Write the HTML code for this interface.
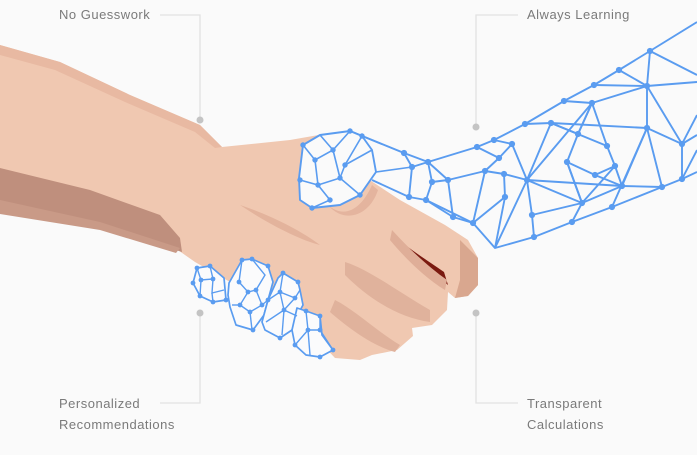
<!DOCTYPE html>
<html><head><meta charset="utf-8"><style>
html,body{margin:0;padding:0;background:#fafafa;}
svg{display:block;}
text{font-family:"Liberation Sans",sans-serif;font-size:13px;fill:#7a7a7a;letter-spacing:0.5px;}
</style></head><body>
<svg width="697" height="455" viewBox="0 0 697 455" xmlns="http://www.w3.org/2000/svg">
<rect width="697" height="455" fill="#fafafa"/>
<g stroke="#e2e2e2" stroke-width="1.3" fill="none">
<polyline points="160,15 200,15 200,120"/>
<polyline points="518,15 476,15 476,127"/>
<polyline points="200,313 200,403 160,403"/>
<polyline points="476,313 476,403 518,403"/>
</g>
<g fill="#c4c4c4">
<circle cx="200" cy="120" r="3.5"/><circle cx="476" cy="127" r="3.5"/>
<circle cx="200" cy="313" r="3.5"/><circle cx="476" cy="313" r="3.5"/>
</g>
<text x="59" y="19">No Guesswork</text>
<text x="527" y="19">Always Learning</text>
<text x="59" y="408">Personalized</text>
<text x="59" y="429">Recommendations</text>
<text x="527" y="408">Transparent</text>
<text x="527" y="429">Calculations</text>

<g stroke="#5a9cf0" stroke-width="1.9" fill="none" stroke-linejoin="round">
<polyline points="300,160 350,131 404,153 428,162 477,147 494,140 525,124 564,101 594,85 619,70 650,51 697,22"/>
<polyline points="372,180 409,197 426,200 453,217 473,223 495,248 534,237 572,222 612,207 662,187 682,179 697,172"/>
<polyline points="404,153 412,167 409,197"/><polyline points="428,162 432,182 426,200"/>
<polyline points="412,167 428,162 448,180 453,217"/><polyline points="432,182 448,180 485,171 504,174 527,180"/>
<polyline points="426,200 473,223 485,171 499,158 477,147"/><polyline points="499,158 512,144 494,140"/>
<polyline points="512,144 527,180 551,123 525,124"/><polyline points="504,174 505,197 495,248"/>
<polyline points="505,197 473,223"/><polyline points="527,180 532,215 534,237"/><polyline points="527,180 495,248"/>
<polyline points="532,215 582,203 572,222"/><polyline points="527,180 582,203 567,162 578,134 551,123"/>
<polyline points="527,180 592,103 564,101"/><polyline points="551,123 607,146 615,166 622,186"/>
<polyline points="592,103 578,134"/><polyline points="592,103 607,146"/><polyline points="592,103 647,86 650,51"/>
<polyline points="594,85 647,86"/><polyline points="619,70 647,86"/><polyline points="647,86 647,128 662,187"/>
<polyline points="647,86 682,144 682,179"/><polyline points="650,51 697,75"/><polyline points="647,86 697,82"/>
<polyline points="551,123 647,128 682,144 697,135"/><polyline points="647,128 622,186 582,203"/>
<polyline points="647,128 612,207"/><polyline points="567,162 595,175 615,166"/><polyline points="595,175 622,186"/>
<polyline points="527,180 622,186 662,187"/><polyline points="582,203 615,166"/><polyline points="682,144 697,115"/>
<polyline points="682,179 697,150"/><polyline points="578,134 592,103"/><polyline points="567,162 582,203"/>
</g>
<g fill="#5a9cf0">
<circle cx="404" cy="153" r="3.1"/><circle cx="428" cy="162" r="3.1"/><circle cx="477" cy="147" r="3.1"/><circle cx="494" cy="140" r="3.1"/><circle cx="525" cy="124" r="3.1"/><circle cx="564" cy="101" r="3.1"/><circle cx="594" cy="85" r="3.1"/><circle cx="619" cy="70" r="3.1"/><circle cx="650" cy="51" r="3.1"/>
<circle cx="409" cy="197" r="3.1"/><circle cx="426" cy="200" r="3.1"/><circle cx="453" cy="217" r="3.1"/><circle cx="473" cy="223" r="3.1"/><circle cx="534" cy="237" r="3.1"/><circle cx="572" cy="222" r="3.1"/><circle cx="612" cy="207" r="3.1"/><circle cx="662" cy="187" r="3.1"/><circle cx="682" cy="179" r="3.1"/>
<circle cx="412" cy="167" r="3.1"/><circle cx="432" cy="182" r="3.1"/><circle cx="448" cy="180" r="3.1"/><circle cx="485" cy="171" r="3.1"/><circle cx="504" cy="174" r="3.1"/><circle cx="499" cy="158" r="3.1"/><circle cx="512" cy="144" r="3.1"/><circle cx="527" cy="180" r="3.1"/><circle cx="551" cy="123" r="3.1"/><circle cx="505" cy="197" r="3.1"/><circle cx="532" cy="215" r="3.1"/><circle cx="582" cy="203" r="3.1"/><circle cx="567" cy="162" r="3.1"/><circle cx="578" cy="134" r="3.1"/><circle cx="592" cy="103" r="3.1"/><circle cx="607" cy="146" r="3.1"/><circle cx="615" cy="166" r="3.1"/><circle cx="622" cy="186" r="3.1"/><circle cx="595" cy="175" r="3.1"/><circle cx="647" cy="86" r="3.1"/><circle cx="647" cy="128" r="3.1"/><circle cx="682" cy="144" r="3.1"/>
</g>

<path d="M0,45 L60,62 L130,95 L200,125 L222,147 L290,140 L330,133 L350,140 L362,175 L400,200 L445,225 L468,240 L478,258 L478,285 L468,296 L455,298 L448,292 L447,310 L432,325 L412,328 L413,336 L397,350 L372,355 L360,360 L335,358 L318,340 L300,322 L262,300 L230,282 L195,262 L175,248 L100,226 L0,210 Z" fill="#f0c8b1"/>
<path d="M0,45 L60,62 L130,95 L200,125 L222,147 L215,148 L195,132 L125,102 L55,70 L0,55 Z" fill="#e8b9a2"/>
<path d="M0,168 L90,190 L160,215 L180,238 L182,252 L100,226 L0,210 Z" fill="#bf8f7d"/>
<path d="M0,200 L100,222 L180,248 L176,253 L100,230 L0,214 Z" fill="#c99a87"/>
<path d="M460,240 L478,258 L478,285 L468,296 L455,298 L460,280 Z" fill="#d9a78f"/>
<path d="M393,235 C410,255 430,270 448,285 L444,272 C430,262 410,250 393,235 Z" fill="#7a1a10"/>
<path d="M392,230 C410,250 430,268 447,280 L445,290 C425,278 405,258 390,240 Z" fill="#dfae98"/>
<path d="M345,262 C370,270 395,290 430,310 L430,322 C400,318 370,300 345,275 Z" fill="#e0b29c"/>
<path d="M335,300 C355,310 375,330 400,345 L395,352 C370,345 345,325 330,312 Z" fill="#e0b29c"/>
<path d="M240,205 C270,215 300,230 320,245 C300,240 270,225 240,205 Z" fill="#e3b39c"/>
<path d="M328,205 C345,220 362,208 372,185 L378,190 C370,215 345,225 328,205 Z" fill="#e4b49e"/>

<g stroke="#5a9cf0" stroke-width="1.9" fill="#fafafa" stroke-linejoin="round">
<polygon points="303,145 320,135 350,131 362,136 372,150 376,172 360,195 340,205 312,208 300,200 299,178"/>
</g>
<g stroke="#5a9cf0" stroke-width="1.6" fill="none">
<polyline points="303,145 315,160 333,150 350,131"/><polyline points="315,160 318,185 300,180"/>
<polyline points="318,185 330,200 312,208"/><polyline points="318,185 340,178 360,195"/><polyline points="340,178 333,150"/>
<polyline points="340,178 345,165 362,136"/><polyline points="345,165 372,150"/><polyline points="333,150 320,135"/>
<polyline points="362,136 404,153"/><polyline points="376,172 412,167"/>
</g>
<g fill="#5a9cf0">
<circle cx="303" cy="145" r="2.7"/><circle cx="350" cy="131" r="2.7"/><circle cx="362" cy="136" r="2.7"/><circle cx="315" cy="160" r="2.7"/><circle cx="333" cy="150" r="2.7"/><circle cx="318" cy="185" r="2.7"/><circle cx="340" cy="178" r="2.7"/><circle cx="345" cy="165" r="2.7"/><circle cx="300" cy="180" r="2.7"/><circle cx="312" cy="208" r="2.7"/><circle cx="330" cy="200" r="2.7"/><circle cx="360" cy="195" r="2.7"/>
</g>

<g stroke="#5a9cf0" stroke-width="1.7" fill="#fbfbfc" stroke-linejoin="round">
<polygon points="197,268 210,266 224,278 226,300 213,302 200,296 193,283"/>
<polygon points="229,283 242,260 252,259 268,266 273,282 268,300 264,315 253,330 236,325 230,307 228,295"/>
<polygon points="268,300 278,278 283,273 298,282 300,290 303,305 297,316 292,330 280,338 265,330 262,322"/>
<polygon points="297,308 306,311 320,316 322,335 333,350 320,357 306,355 295,345 292,330"/>
</g>
<g stroke="#5a9cf0" stroke-width="1.4" fill="none">
<polyline points="197,268 201,280 213,279 210,266"/><polyline points="201,280 200,296"/><polyline points="213,279 212,293 224,290"/><polyline points="212,293 213,302"/>
<polyline points="242,260 239,282 248,292 256,290 265,275 252,259"/><polyline points="248,292 240,305 250,312 262,305 256,290"/><polyline points="240,305 232,305"/><polyline points="250,312 252,330"/><polyline points="262,305 268,300"/>
<polyline points="283,273 280,292 295,298 300,290"/><polyline points="280,292 268,300"/><polyline points="280,292 284,310 295,298"/><polyline points="284,310 266,322"/><polyline points="284,310 282,335"/><polyline points="284,310 297,316"/>
<polyline points="306,311 308,330 320,330 320,316"/><polyline points="308,330 295,345"/><polyline points="308,330 310,355"/><polyline points="320,330 333,350"/>
</g>
<g fill="#5a9cf0">
<circle cx="197" cy="268" r="2.4"/><circle cx="210" cy="266" r="2.4"/><circle cx="201" cy="280" r="2.4"/><circle cx="213" cy="279" r="2.4"/><circle cx="193" cy="283" r="2.4"/><circle cx="200" cy="296" r="2.4"/><circle cx="213" cy="302" r="2.4"/><circle cx="226" cy="300" r="2.4"/>
<circle cx="242" cy="260" r="2.4"/><circle cx="252" cy="259" r="2.4"/><circle cx="239" cy="282" r="2.4"/><circle cx="248" cy="292" r="2.4"/><circle cx="256" cy="290" r="2.4"/><circle cx="240" cy="305" r="2.4"/><circle cx="250" cy="312" r="2.4"/><circle cx="262" cy="305" r="2.4"/><circle cx="253" cy="330" r="2.4"/><circle cx="268" cy="266" r="2.4"/>
<circle cx="283" cy="273" r="2.4"/><circle cx="298" cy="282" r="2.4"/><circle cx="280" cy="292" r="2.4"/><circle cx="295" cy="298" r="2.4"/><circle cx="284" cy="310" r="2.4"/><circle cx="268" cy="300" r="2.4"/><circle cx="280" cy="338" r="2.4"/>
<circle cx="306" cy="311" r="2.4"/><circle cx="320" cy="316" r="2.4"/><circle cx="308" cy="330" r="2.4"/><circle cx="320" cy="330" r="2.4"/><circle cx="333" cy="350" r="2.4"/><circle cx="320" cy="357" r="2.4"/><circle cx="295" cy="345" r="2.4"/>
</g>
</svg>
</body></html>
